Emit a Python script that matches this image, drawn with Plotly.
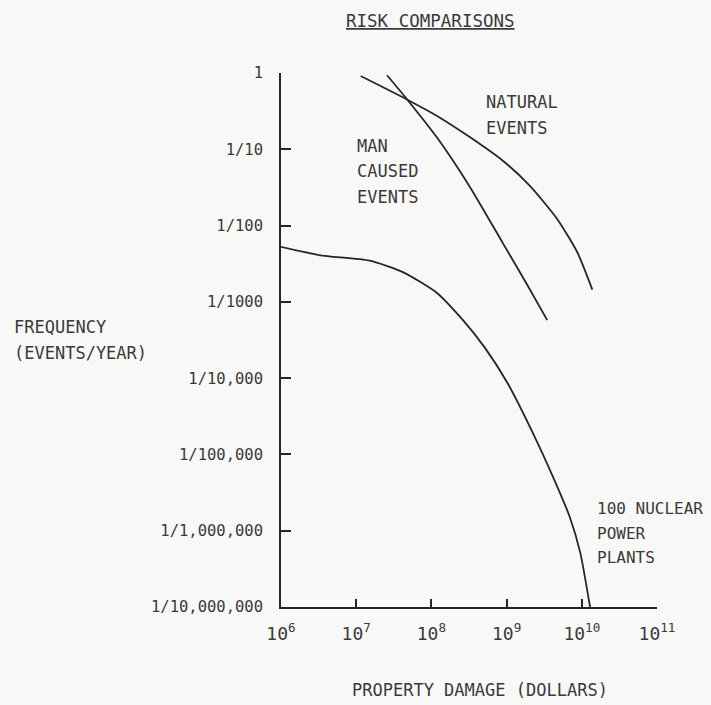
import plotly.graph_objects as go

# ---- data (log10 values) ----
nuclear_x = [6.0, 6.52, 7.18, 7.62, 8.07, 8.42, 8.71, 9.01, 9.35, 9.62, 9.84, 9.98, 10.11]
nuclear_y = [-2.28, -2.39, -2.46, -2.61, -2.88, -3.24, -3.60, -4.06, -4.72, -5.30, -5.82, -6.29, -7.0]

man_x = [7.41, 7.68, 8.07, 8.51, 8.95, 9.27, 9.54]
man_y = [-0.03, -0.35, -0.84, -1.49, -2.23, -2.77, -3.24]

natural_x = [7.06, 7.68, 8.07, 8.51, 8.95, 9.31, 9.67, 9.94, 10.14]
natural_y = [-0.04, -0.35, -0.56, -0.84, -1.15, -1.48, -1.91, -2.35, -2.84]

x_tickvals_exp = [6, 7, 8, 9, 10, 11]
x_ticktext = ["10<sup>%d</sup>" % e for e in x_tickvals_exp]
y_tickvals_exp = [0, -1, -2, -3, -4, -5, -6, -7]
y_ticktext = ["1", "1/10", "1/100", "1/1000", "1/10,000", "1/100,000",
              "1/1,000,000", "1/10,000,000"]

FONT = "DejaVu Sans Mono"
TXT = "#3a3a3a"
LINE = "#262626"
BG = "#f8f8f7"

W, H = 711, 705
ML, MR, MT, MB = 281, 54, 73, 98

fig = go.Figure()
for xs, ys in [(natural_x, natural_y), (man_x, man_y), (nuclear_x, nuclear_y)]:
    fig.add_trace(go.Scatter(
        x=[10 ** v for v in xs], y=[10 ** v for v in ys],
        mode="lines", line=dict(color=LINE, width=1.8, shape="spline", smoothing=0.6),
        showlegend=False, hoverinfo="skip"))

fig.update_layout(
    width=W, height=H, autosize=False,
    margin=dict(l=ML, r=MR, t=MT, b=MB),
    paper_bgcolor=BG, plot_bgcolor=BG,
    font=dict(family=FONT, color=TXT, size=17),
    xaxis=dict(type="log", range=[6, 11], showgrid=False, zeroline=False,
               showline=True, linecolor=LINE, linewidth=1.8,
               ticks="inside", ticklen=8, tickwidth=1.5, tickcolor=LINE,
               tickvals=[10 ** e for e in x_tickvals_exp], ticktext=x_ticktext,
               tickfont=dict(size=18, family=FONT, color=TXT),
               ticklabelstandoff=9),
    yaxis=dict(type="log", range=[-7, 0], showgrid=False, zeroline=False,
               showline=True, linecolor=LINE, linewidth=1.8,
               ticks="inside", ticklen=10, tickwidth=1.5, tickcolor=LINE,
               tickvals=[10 ** e for e in y_tickvals_exp], ticktext=y_ticktext,
               tickfont=dict(size=15.5, family=FONT, color=TXT),
               ticklabelstandoff=13),
)

PW, PH = W - ML - MR, H - MT - MB


def px2paper(px, py):
    return (px - ML) / PW, (H - MB - py) / PH


def label(lines, x_px, centers_py, xanchor="left", size=17):
    for text, cy in zip(lines, centers_py):
        x, y = px2paper(x_px, cy)
        fig.add_annotation(text=text, x=x, y=y, xref="paper", yref="paper",
                           xanchor=xanchor, yanchor="middle", showarrow=False,
                           align="left", font=dict(family=FONT, color=TXT, size=size))


label(["<u>RISK COMPARISONS</u>"], 430, [21], xanchor="center", size=17.5)
label(["NATURAL", "EVENTS"], 484, [102, 128])
label(["MAN", "CAUSED", "EVENTS"], 355, [146, 171, 197])
label(["100 NUCLEAR", "POWER", "PLANTS"], 595, [508, 533, 557], size=16)
label(["FREQUENCY", "(EVENTS/YEAR)"], 12, [327, 353])
label(["PROPERTY DAMAGE (DOLLARS)"], 480, [690], xanchor="center")

fig.write_html("out.html", config={"displayModeBar": False},
               post_script="document.body.style.margin='0';document.body.style.overflow='hidden';")
